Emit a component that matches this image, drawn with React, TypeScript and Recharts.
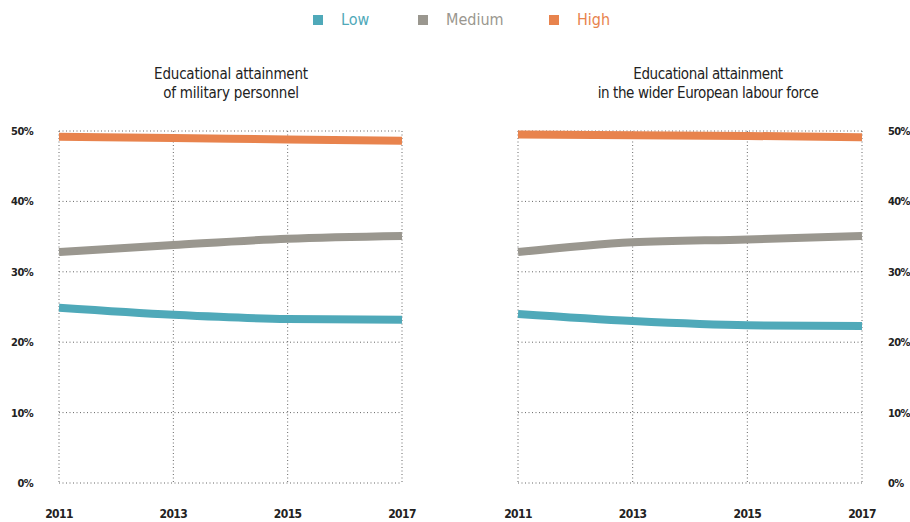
import { LineChart, Line, XAxis, YAxis, CartesianGrid } from "recharts";

const years = [2011, 2013, 2015, 2017];
const yTicks = [0, 10, 20, 30, 40, 50];

const militaryLow = [24.9, 23.9, 23.3, 23.2];
const militaryMedium = [32.8, 33.8, 34.7, 35.1];
const militaryHigh = [49.2, 49.0, 48.8, 48.6];

const labourLow = [24.0, 23.0, 22.4, 22.3];
const labourMedium = [32.8, 34.2, 34.6, 35.1];
const labourHigh = [49.5, 49.4, 49.3, 49.1];

const seriesNames = ["Low", "Medium", "High"];
const seriesKeys = ["low", "medium", "high"];
const colors = ["#4fa9b9", "#9a978f", "#e8834d"];

// legend swatch x positions
const legendX = [313, 418, 549];

const FONT = "'DejaVu Sans Condensed', 'Liberation Sans Narrow', 'DejaVu Sans', sans-serif";

function toRows(low: number[], medium: number[], high: number[]) {
  return years.map((year, i) => ({ year, low: low[i], medium: medium[i], high: high[i] }));
}

const militaryData = toRows(militaryLow, militaryMedium, militaryHigh);
const labourData = toRows(labourLow, labourMedium, labourHigh);

const tickStyle = {
  fill: "#222",
  fontSize: 11,
  fontWeight: 600,
  fontFamily: FONT,
  fontStretch: "condensed",
  letterSpacing: -0.6,
};

function Panel({ data, side }: { data: any[]; side: "left" | "right" }) {
  const isLeft = side === "left";
  return (
    <LineChart
      width={isLeft ? 460 : 450}
      height={522}
      data={data}
      margin={isLeft ? { top: 131, right: 58, bottom: 0, left: 0 } : { top: 131, right: 0, bottom: 0, left: 58 }}
    >
      <CartesianGrid stroke="#666" strokeDasharray="1 2.5" />
      <XAxis
        dataKey="year"
        type="number"
        domain={[2011, 2017]}
        ticks={years}
        axisLine={false}
        tickLine={false}
        tickSize={0}
        tickMargin={26}
        height={39}
        tick={{ ...tickStyle, fontSize: 12 }}
        interval={0}
      />
      <YAxis
        orientation={side}
        domain={[0, 50]}
        ticks={yTicks}
        axisLine={false}
        tickLine={false}
        tickSize={0}
        tickMargin={26}
        width={isLeft ? 59 : 48}
        tick={{ ...tickStyle, textAnchor: isLeft ? "end" : "start" }}
        tickFormatter={(v: number) => `${v}%`}
      />
      {seriesKeys.map((k, i) => (
        <Line
          key={k}
          type="monotone"
          dataKey={k}
          stroke={colors[i]}
          strokeWidth={8}
          dot={false}
          activeDot={false}
          isAnimationActive={false}
        />
      ))}
    </LineChart>
  );
}

export default function App() {
  return (
    <div style={{ position: "absolute", left: 0, top: 0, width: 910, height: 522, background: "#fff", fontFamily: FONT, fontStretch: "condensed" }}>
      <div style={{ position: "absolute", left: 0, top: 0 }}>
        <Panel data={militaryData} side="left" />
      </div>
      <div style={{ position: "absolute", left: 460, top: 0 }}>
        <Panel data={labourData} side="right" />
      </div>
      {seriesNames.map((name, i) => (
        <div
          key={name}
          style={{ position: "absolute", top: 10, left: legendX[i], display: "flex", alignItems: "center", color: colors[i], fontSize: 16 }}
        >
          <span style={{ display: "inline-block", width: 10, height: 10, background: colors[i], marginRight: 18 }} />
          {name}
        </div>
      ))}
      <div style={{ position: "absolute", left: 81, top: 65, width: 300, textAlign: "center", fontSize: 15, lineHeight: "19px", color: "#222", letterSpacing: -0.2 }}>
        Educational attainment
        <br />
        of military personnel
      </div>
      <div style={{ position: "absolute", left: 558, top: 65, width: 300, textAlign: "center", fontSize: 15, lineHeight: "19px", color: "#222", letterSpacing: -0.4 }}>
        Educational attainment
        <br />
        in the wider European labour force
      </div>
    </div>
  );
}
